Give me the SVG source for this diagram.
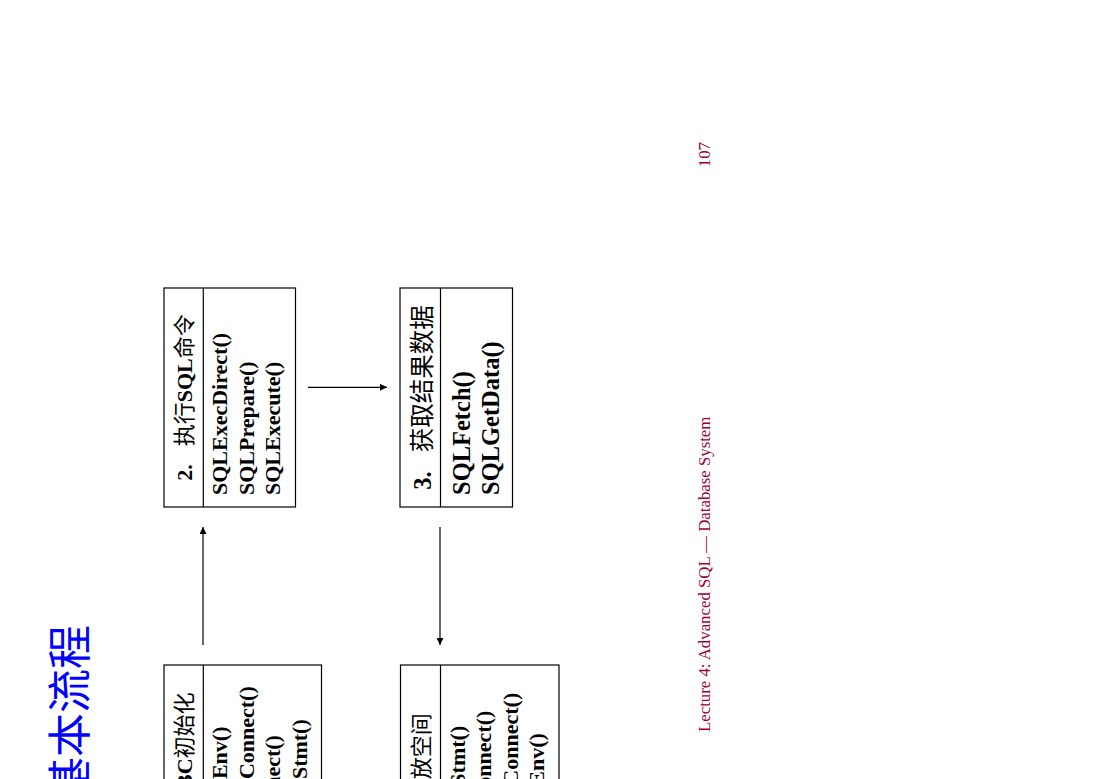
<svg xmlns="http://www.w3.org/2000/svg" width="1100" height="779" viewBox="0 0 1100 779">
<style>
.box{fill:#fff;stroke:#000;stroke-width:1.2}
.div{stroke:#000;stroke-width:1.2}
.t{font-family:"Liberation Serif","Noto Sans CJK SC",serif;font-size:22px;fill:#000}
.big{font-size:24.5px}
.b{font-weight:bold}
.cjk{font-family:"Noto Sans CJK SC","Liberation Serif",sans-serif;font-weight:normal}
.title{font-family:"Noto Sans CJK SC",sans-serif;font-size:44px;fill:#0000ff}
.foot{font-family:"Liberation Serif",serif;font-size:16.8px;fill:#990033}
.conn{stroke:#000;stroke-width:1.2;fill:none}
</style>
<defs>
<marker id="ah" viewBox="0 0 10 10" refX="10" refY="5" markerUnits="userSpaceOnUse" markerWidth="8" markerHeight="7" orient="auto">
<path d="M0,0 L10,5 L0,10 z" fill="#000"/>
</marker>
</defs>
<rect width="1100" height="779" fill="#fff"/>
<g transform="matrix(0,-1,1,0,0,779)">
<g id="title"><text class="title" x="154" y="86" text-anchor="end">基本流程</text></g>
<g id="node1">
<rect class="box" x="-105" y="164" width="219" height="157.5"/>
<line class="div" x1="-105" y1="203.3" x2="114" y2="203.3"/>
<text class="t" x="4.5" y="191.5" text-anchor="middle"><tspan class="b">1.</tspan><tspan class="b" dx="18">ODBC</tspan><tspan class="cjk">初始化</tspan></text>
<text class="t b" x="-93" y="227">SQLAllocEnv()</text>
<text class="t b" x="-93" y="253.5">SQLAllocConnect()</text>
<text class="t b" x="-93" y="280">SQLConnect()</text>
<text class="t b" x="-93" y="306.5">SQLAllocStmt()</text>
</g>
<g id="node2">
<rect class="box" x="272" y="164" width="219" height="131.5"/>
<line class="div" x1="272" y1="203.3" x2="491" y2="203.3"/>
<text class="t" x="381.5" y="191.5" text-anchor="middle"><tspan class="b">2.</tspan><tspan class="cjk" dx="18">执行</tspan><tspan class="b">SQL</tspan><tspan class="cjk">命令</tspan></text>
<text class="t b" x="284" y="227">SQLExecDirect()</text>
<text class="t b" x="284" y="253.5">SQLPrepare()</text>
<text class="t b" x="284" y="280">SQLExecute()</text>
</g>
<g id="node3">
<rect class="box" x="272" y="400" width="219" height="112.5"/>
<line class="div" x1="272" y1="440.5" x2="491" y2="440.5"/>
<text class="t big" x="381.5" y="431" text-anchor="middle"><tspan class="b">3.</tspan><tspan class="cjk" dx="19">获取结果数据</tspan></text>
<text class="t big b" x="284" y="469.5">SQLFetch()</text>
<text class="t big b" x="284" y="498.5">SQLGetData()</text>
</g>
<g id="node4">
<rect class="box" x="-105" y="400.5" width="219" height="158.5"/>
<line class="div" x1="-105" y1="440.5" x2="114" y2="440.5"/>
<text class="t" x="4.5" y="428.5" text-anchor="middle"><tspan class="b">4.</tspan><tspan class="cjk" dx="18">释放空间</tspan></text>
<text class="t b" x="-93" y="464.5">SQLFreeStmt()</text>
<text class="t b" x="-93" y="491">SQLDisconnect()</text>
<text class="t b" x="-93" y="517.5">SQLFreeConnect()</text>
<text class="t b" x="-93" y="544">SQLFreeEnv()</text>
</g>
<g id="footer">
<text class="foot" x="47" y="710">Lecture 4: Advanced SQL — Database System</text>
<text class="foot" x="637" y="710" text-anchor="end">107</text>
</g>
</g>
<g id="connectors">
<path class="conn" d="M203,645 V527" marker-end="url(#ah)"/>
<path class="conn" d="M308,387.3 H387" marker-end="url(#ah)"/>
<path class="conn" d="M440,527 V645" marker-end="url(#ah)"/>
</g>
</svg>
